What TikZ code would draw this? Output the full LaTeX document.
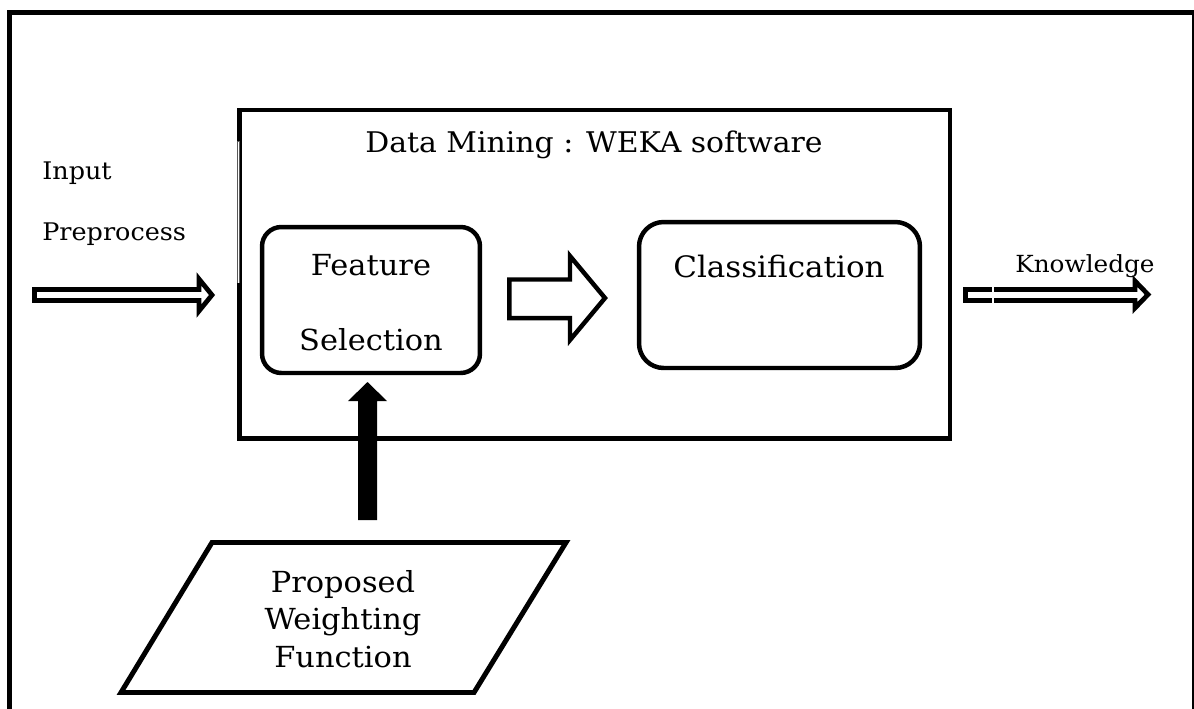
\documentclass[tikz,border=0pt]{standalone}
\usepackage{fontspec}
\setmainfont{DejaVu Serif}[FakeStretch=1.05]
\usetikzlibrary{calc}
\begin{document}
\begin{tikzpicture}[x=0.02cm,y=-0.02cm,
  frame/.style={draw=black,line width=2.83pt},
  boxline/.style={draw=black,line width=2.55pt},
  roundbox/.style={boxline,inner sep=0pt,align=center},
  hollowarrow/.style={draw=black,fill=white,line width=2.7pt,line join=miter},
  label/.style={inner sep=0pt,font=\fontsize{16.2pt}{19pt}\selectfont},
  sidelabel/.style={inner sep=0pt,anchor=base west}]
\useasboundingbox (0,0) rectangle (1194,708);
\clip (0,0) rectangle (1194,708);

% page frame
\draw[frame] (9.5,12.5) rectangle (1194.5,712);

% WEKA block and its two stages
\node[boxline,minimum width=14.21cm,minimum height=6.57cm] (main) at (594.75,274.25) {};
\node[label,anchor=base] (mainlabel) at (594,152) {Data Mining : WEKA software};

\node[roundbox,rounded corners=11pt,minimum width=4.36cm,minimum height=2.92cm] (feat) at (371,300) {};
% multi-line labels: the base anchor sits on the last line
\node[inner sep=0pt,anchor=base,align=center,font=\fontsize{16.5pt}{42.5pt}\selectfont]
  (featlabel) at (371,350) {Feature\\Selection};
\node[roundbox,rounded corners=14pt,minimum width=5.62cm,minimum height=2.92cm] (cls) at (779.5,295) {};
\node[inner sep=0pt,anchor=base,font=\fontsize{16.8pt}{20pt}\selectfont] (clslabel) at (779,277) {Classification};

% thin seam on the left side of the block
\fill[white] (237,142) rectangle (240,283);
\draw[gray!70!black,line width=0.4pt] (237.3,283) -- (237.3,141.7) -- (239.6,141.7) -- (239.6,283);

% input side
\node[sidelabel,font=\fontsize{13.8pt}{17pt}\selectfont] (inp) at (42,179) {Input};
\node[sidelabel,font=\fontsize{13.8pt}{17pt}\selectfont] (pre) at (42,240) {Preprocess};
\coordinate (inTail) at (34.5,295);
\coordinate (inTip) at (212,295);
\draw[hollowarrow] ($(inTail)+(0,-5.5)$) -- (199,289.5) -- (199,279) -- (inTip)
  -- (199,311) -- (199,300.5) -- ($(inTail)+(0,5.5)$) -- cycle;

% feature selection to classification
\coordinate (midTail) at (509.3,298.75);
\coordinate (midTip) at (605,298);
\draw[hollowarrow,line width=2.55pt] ($(midTail)+(0,-19.25)$) -- (570,279.5) -- (570,256) -- (midTip)
  -- (570,340) -- (570,318) -- ($(midTail)+(0,19.25)$) -- cycle;

% output side
\node[sidelabel,font=\fontsize{13.4pt}{16pt}\selectfont] (know) at (1015,272) {Knowledge};
\coordinate (outTail) at (965.5,295);
\coordinate (outTip) at (1148,294.5);
\draw[hollowarrow] ($(outTail)+(0,-5.5)$) -- (1135,289.5) -- (1135,281) -- (outTip)
  -- (1135,308) -- (1135,300.5) -- ($(outTail)+(0,5.5)$) -- cycle;
\fill[white] (992,285) rectangle (993.8,305);

% weighting function input
\coordinate (pA) at (212,542.5);
\coordinate (pB) at (566,542.5);
\coordinate (pC) at (474,692.5);
\coordinate (pD) at (121,692.5);
\draw[boxline,line width=2.83pt,line join=miter] (pA) -- (pB) -- (pC) -- (pD) -- cycle;
\node[inner sep=0pt,anchor=base,align=center,font=\fontsize{16.5pt}{21.3pt}\selectfont]
  (pwf) at (343,667) {Proposed\\Weighting\\Function};

% solid arrow into feature selection
\coordinate (wBot) at (367.5,520);
\coordinate (wTip) at (367.5,382);
\fill ($(wBot)+(-9.5,0)$) -- (358,401) -- (348,401) -- (wTip) -- (387,401) -- (377,401)
  -- ($(wBot)+(9.5,0)$) -- cycle;
\end{tikzpicture}
\end{document}
